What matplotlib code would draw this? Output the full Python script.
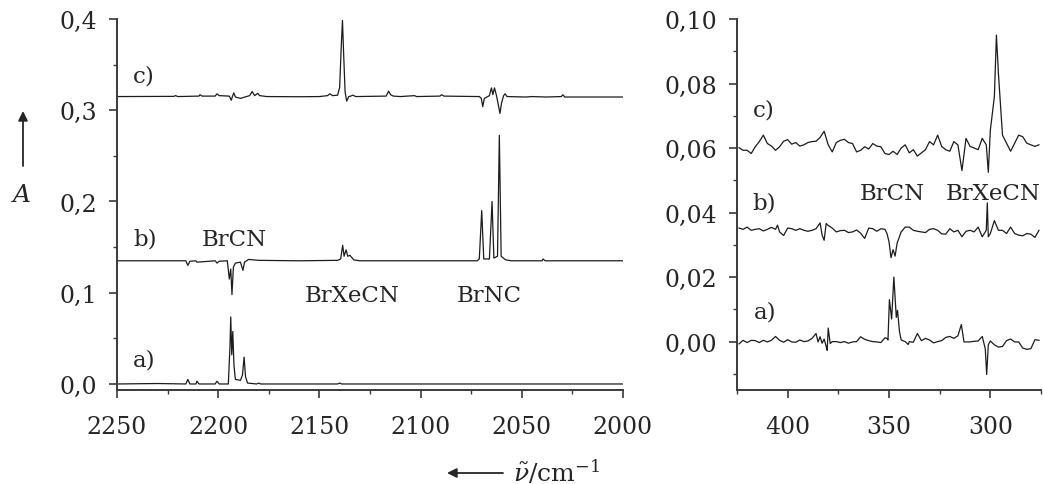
import matplotlib
matplotlib.use("Agg")
import matplotlib.pyplot as plt
from matplotlib.ticker import MultipleLocator, FuncFormatter

plt.rcParams['font.family'] = ['DejaVu Serif']
plt.rcParams['mathtext.fontset'] = 'dejavuserif'

# ---------------- data: left panel (2250-2000 cm-1) ----------------
a_left_wn = [2250, 2230, 2216, 2215, 2214, 2211, 2210.5, 2209.5, 2201.5, 2200.6, 2199.5,
             2195, 2194.2, 2193.8, 2193.3, 2192.8, 2192.2, 2191.5, 2189, 2188, 2187.2,
             2186.5, 2185.5, 2181, 2180, 2179, 2141, 2140, 2139, 2000]
a_left_A = [0.0, 0.0005, 0.0, 0.005, 0.0, 0.0, 0.003, 0.0, 0.0, 0.003, 0.0,
            0.0, 0.040, 0.0735, 0.032, 0.0575, 0.020, 0.005, 0.004, 0.010, 0.0295,
            0.008, 0.001, 0.0, 0.001, 0.0, 0.0, 0.001, 0.0, 0.0]

b_left_wn = [2250, 2216, 2215, 2214, 2211, 2210.5, 2201.5, 2200.6, 2199.5, 2195.5, 2194.5,
             2193.8, 2193.2, 2192.5, 2191.5, 2189, 2187.8, 2187, 2185, 2180, 2160, 2141,
             2139.5, 2138.5, 2137.8, 2136.8, 2136, 2134.9, 2133, 2130, 2072, 2071, 2069.8,
             2068.8, 2066, 2064.7, 2063.8, 2062, 2061.1, 2060.2, 2058, 2055, 2040, 2039.5,
             2038.5, 2000]
b_left_A = [0.135, 0.135, 0.130, 0.1345, 0.135, 0.1335, 0.135, 0.1325, 0.1345, 0.135, 0.115,
            0.126, 0.098, 0.128, 0.1325, 0.1335, 0.1245, 0.1335, 0.1365, 0.1355, 0.135, 0.1355,
            0.137, 0.152, 0.140, 0.147, 0.140, 0.141, 0.136, 0.135, 0.135, 0.137, 0.190,
            0.137, 0.137, 0.200, 0.138, 0.140, 0.2725, 0.140, 0.136, 0.135, 0.135, 0.137,
            0.135, 0.135]

c_left_wn = [2250, 2222, 2221, 2220, 2209.5, 2209, 2208, 2201.5, 2200.6, 2199.5, 2194.5,
             2193.5, 2193, 2192.3, 2191.5, 2189, 2186, 2184.5, 2183.2, 2182, 2180.5, 2179.5,
             2176, 2160, 2150, 2146, 2144.8, 2143.5, 2141, 2140, 2139.2, 2138.6, 2138,
             2137.3, 2136.5, 2135.5, 2134.5, 2133.5, 2132, 2117, 2115.8, 2114.8, 2113.5,
             2110, 2103, 2102, 2090.5, 2089.6, 2088.5, 2071, 2070, 2069.3, 2068.5, 2066,
             2065, 2064.3, 2063.5, 2062.5, 2061.6, 2060.8, 2060, 2059, 2058.2, 2057.3,
             2048, 2045, 2038, 2030.5, 2029.7, 2028.8, 2000]
c_left_A = [0.315, 0.3152, 0.316, 0.315, 0.3155, 0.317, 0.3155, 0.3155, 0.318, 0.316, 0.3155,
            0.311, 0.315, 0.319, 0.3145, 0.313, 0.315, 0.316, 0.3205, 0.316, 0.3185, 0.316,
            0.315, 0.3148, 0.315, 0.316, 0.318, 0.316, 0.3165, 0.325, 0.370, 0.3985, 0.360,
            0.320, 0.310, 0.315, 0.3155, 0.3165, 0.315, 0.3155, 0.321, 0.317, 0.3155,
            0.315, 0.316, 0.315, 0.3155, 0.317, 0.3155, 0.315, 0.313, 0.304, 0.313, 0.316,
            0.3245, 0.317, 0.3245, 0.316, 0.306, 0.2965, 0.308, 0.316, 0.318, 0.315,
            0.3145, 0.315, 0.3145, 0.315, 0.317, 0.3145, 0.3145]

# ---------------- data: right panel (425-275 cm-1), values in 1e-3 ----------------
a_right_wn = [424, 422, 420, 418, 416, 414, 412, 410, 408, 406, 404, 402, 400, 398, 396, 394,
              392, 390, 388, 386, 385, 384, 383, 382, 381, 380.5, 380, 379, 378, 376, 374,
              372, 370, 368, 366, 364, 362, 360, 358, 356, 354, 352, 351, 350.5, 349.8,
              348.7, 347.6, 346.4, 345.8, 344.8, 344, 342, 340.5, 340, 338, 336, 334, 332,
              330, 328, 326, 324, 322, 320, 318, 316, 314.3, 313, 310, 308, 306, 304,
              302.5, 301.8, 301, 300, 298, 296, 294, 292, 290, 288, 286, 284, 282, 280,
              278, 276]
a_right_A = [-0.7, 0.4, -0.3, 0.4, 0.3, -0.3, 0.4, -0.1, 0.4, 1.6, 0.4, -0.2, 0.6, -0.1, -0.2, 0.5,
             0.0, 0.2, 1.0, 2.5, -0.1, 1.5, -0.5, 0.8, -1.5, -2.7, 4.2, -0.6, 0.0, 0.0, -0.3,
             0.0, -0.5, -0.1, 0.0, 1.5, 0.7, 0.3, 0.0, -0.1, -0.3, 1.2, 1.0, 0.5, 13.0,
             7.0, 20.0, 7.5, 9.7, 3.0, 0.5, 0.0, -0.9, 0.0, -0.2, 2.5, 0.3, 1.0,
             0.5, -0.4, 0.0, 0.3, 1.3, 1.6, 1.0, 1.8, 5.3, -0.1, -0.1, 0.1, 0.2, 1.6,
             -2.2, -10.2, -1.0, 0.2, -1.0, -1.7, -1.5, 0.3, 0.8, -0.1, -0.1, -2.0, -2.4, -2.2,
             0.6, 0.4]

b_right_wn = [424, 422, 420, 418, 416, 414, 412, 410, 408, 406, 405, 404, 402, 400, 398, 396,
              394, 392, 390, 388, 386, 384, 383, 382, 381, 380, 378, 376, 374, 372, 370,
              368, 366, 364, 362, 360, 358, 356, 354, 352, 351, 350, 349, 348, 347, 346,
              344, 342, 340, 338, 336, 334, 332, 330, 328, 326, 324, 322, 320, 318, 316,
              314, 312, 310, 308, 306, 304, 302, 301.5, 301, 300, 298, 296, 294, 292, 290,
              288, 286, 284, 282, 280, 278, 276]
b_right_A = [35.2, 34.8, 35.5, 34.5, 34.8, 35.0, 34.3, 34.8, 35.4, 34.8, 36.1, 34.0, 32.9, 35.2, 35.0, 34.5,
             35.0, 34.5, 34.2, 34.5, 35.0, 36.8, 33.0, 31.4, 36.6, 36.0, 35.2, 34.0, 34.4, 34.5, 33.8,
             34.0, 34.6, 33.6, 32.0, 35.2, 35.0, 34.2, 35.0, 34.8, 33.5, 31.0, 26.0, 28.5, 26.5, 30.5,
             34.0, 35.5, 35.5, 34.5, 34.2, 34.0, 33.8, 34.8, 35.0, 34.5, 33.4, 33.3, 35.0, 34.0, 34.5,
             32.5, 34.2, 34.5, 34.0, 35.5, 32.5, 34.5, 43.0, 32.5, 33.5, 37.5, 34.5, 34.5, 33.5, 35.5,
             33.5, 33.0, 32.8, 33.5, 33.3, 32.3, 34.5]

c_right_wn = [424, 422, 420, 418, 416, 414, 412, 410, 408, 406, 404, 402, 400, 398, 396, 394,
              392, 390, 388, 386, 384, 382, 380, 378, 376, 374, 372, 370, 368, 366, 364,
              362, 360, 358, 356, 354, 352, 350, 348, 346, 344, 342, 340, 338, 336, 334,
              332, 330, 328, 326, 324, 322, 320, 318, 316, 314, 312, 310, 308, 306, 304,
              302, 301, 300, 298, 297, 296, 294, 292, 290, 288, 286, 284, 282, 280, 278, 276]
c_right_A = [60.1, 59.3, 59.3, 58.3, 60.4, 62.0, 64.0, 61.4, 60.6, 59.3, 60.4, 62.1, 62.6, 61.2, 61.7, 60.6,
             61.0, 61.7, 62.0, 62.1, 63.3, 65.2, 61.0, 58.8, 61.7, 62.4, 62.7, 61.7, 61.4, 58.8, 59.3,
             60.4, 59.7, 61.4, 60.6, 60.4, 58.3, 58.0, 59.0, 58.0, 60.0, 61.0, 58.5, 59.5, 57.5, 58.5,
             59.5, 62.0, 61.0, 64.0, 60.5, 59.5, 59.0, 62.0, 61.0, 53.0, 63.0, 60.5, 60.0, 59.5, 63.0,
             61.0, 52.5, 65.5, 76.0, 95.0, 83.0, 64.0, 61.5, 59.0, 61.5, 64.0, 63.5, 61.5, 61.0, 60.5, 61.0]

left_yticks = [0.0, 0.1, 0.2, 0.3, 0.4]
right_yticks = [0.00, 0.02, 0.04, 0.06, 0.08, 0.10]
left_xticks = [2250, 2200, 2150, 2100, 2050, 2000]
right_xticks = [400, 350, 300]

# ---------------- figure ----------------
W, H = 1043, 485
fig = plt.figure(figsize=(W / 100, H / 100), dpi=100)
ink = '#262626'
line_c = '#1c1c1c'
fs = 17
fs_lab = 16.5

axL = fig.add_axes([117 / W, 1 - 391 / H, (623 - 117) / W, (391 - 20) / H])
axR = fig.add_axes([737 / W, 1 - 391 / H, (1041 - 737) / W, (391 - 20) / H])

for wn, A in [(a_left_wn, a_left_A), (b_left_wn, b_left_A), (c_left_wn, c_left_A)]:
    axL.plot(wn, A, color=line_c, lw=0.9)
for wn, A in [(a_right_wn, a_right_A), (b_right_wn, b_right_A), (c_right_wn, c_right_A)]:
    axR.plot(wn, [v / 1000 for v in A], color=line_c, lw=0.9)

axL.set_xlim(2250, 2000)
axL.set_ylim(-0.0066, 0.4)
axR.set_xlim(425, 275)
axR.set_ylim(-0.015, 0.10)

axL.set_xticks(left_xticks)
axL.set_yticks(left_yticks)
axL.xaxis.set_minor_locator(MultipleLocator(25))
axL.yaxis.set_minor_locator(MultipleLocator(0.05))
axL.yaxis.set_major_formatter(FuncFormatter(lambda v, p: f"{v:.1f}".replace('.', ',')))

axR.set_xticks(right_xticks)
axR.set_yticks(right_yticks)
axR.xaxis.set_minor_locator(MultipleLocator(25))
axR.yaxis.set_minor_locator(MultipleLocator(0.01))
axR.yaxis.set_major_formatter(FuncFormatter(lambda v, p: f"{v:.2f}".replace('.', ',').replace('-0,00', '0,00')))

for ax in (axL, axR):
    for s in ('top', 'right'):
        ax.spines[s].set_visible(False)
    for s in ('left', 'bottom'):
        ax.spines[s].set_color('#3a3a3a')
        ax.spines[s].set_linewidth(1.4)
    ax.tick_params(which='major', direction='out', length=6, width=1.2, color='#3a3a3a',
                   labelsize=fs, labelcolor=ink)
    ax.tick_params(which='minor', direction='out', length=3, width=1.0, color='#3a3a3a')
    ax.tick_params(axis='x', which='major', pad=12)
    ax.tick_params(axis='y', which='major', pad=8)
    ax.set_facecolor('none')

# labels in left panel
txt = dict(fontsize=fs_lab, color=ink, ha='left', va='baseline')
axL.text(2242.1, 0.3319, 'c)', **txt)
axL.text(2242.1, 0.1527, 'b)', **txt)
axL.text(2208.0, 0.1527, 'BrCN', **txt)
axL.text(2242.1, 0.0198, 'a)', **txt)
axL.text(2157.1, 0.0904, 'BrXeCN', **txt)
axL.text(2082.0, 0.0904, 'BrNC', **txt)

# labels in right panel
axR.text(417.2, 0.0702, 'c)', **txt)
axR.text(417.2, 0.0412, 'b)', **txt)
axR.text(364.5, 0.0443, 'BrCN', **txt)
axR.text(321.8, 0.0443, 'BrXeCN', **txt)
axR.text(416.7, 0.0074, 'a)', **txt)

# axis labels with arrows
arrow = dict(arrowstyle='-|>', color=ink, lw=1.3, mutation_scale=14, shrinkA=0, shrinkB=0)
fig.add_artist(matplotlib.patches.FancyArrowPatch((23 / W, 1 - 167 / H), (23 / W, 1 - 112 / H),
                                                  transform=fig.transFigure, **arrow))
fig.text(22 / W, 1 - 202 / H, 'A', fontsize=18, style='italic', color=ink, ha='center', va='baseline')

fig.add_artist(matplotlib.patches.FancyArrowPatch((503 / W, 1 - 474 / H), (447 / W, 1 - 474 / H),
                                                  transform=fig.transFigure, **arrow))
fig.text(513 / W, 1 - 482 / H, r'$\tilde{\nu}/\mathrm{cm}^{-1}$', fontsize=18, color=ink,
         ha='left', va='baseline')

fig.savefig('out.png', dpi=100)
